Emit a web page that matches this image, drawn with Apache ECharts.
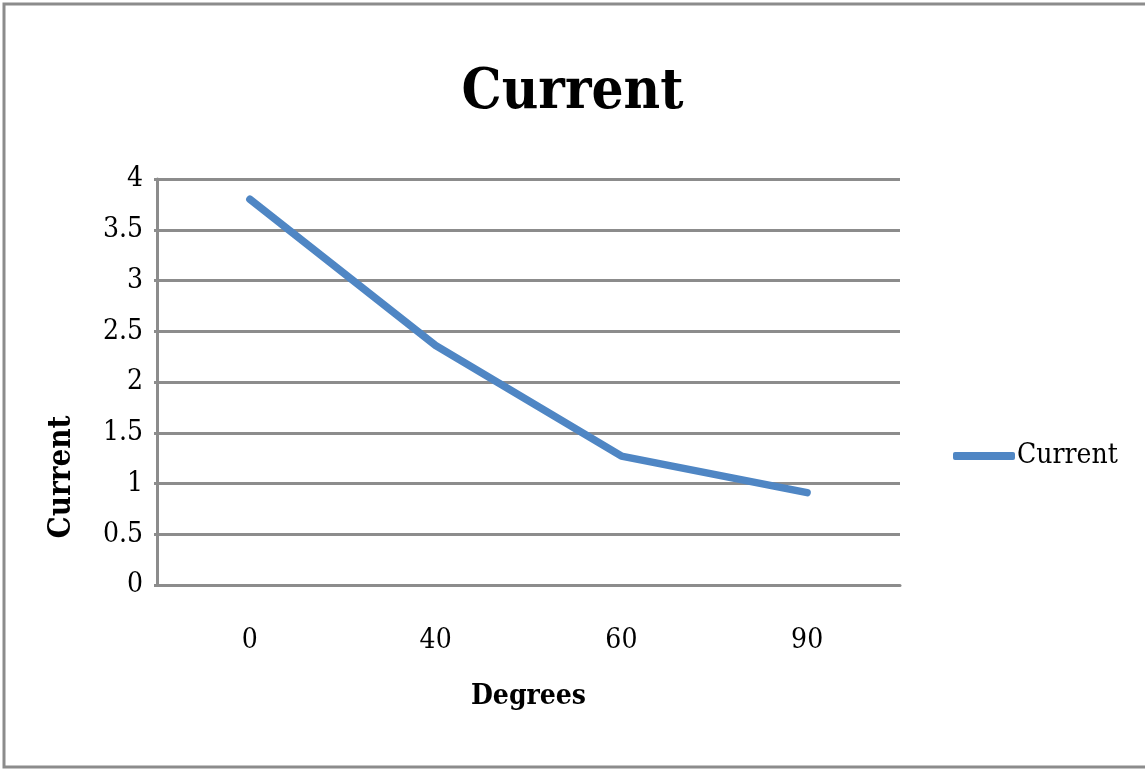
<!DOCTYPE html>
<html><head><meta charset="utf-8">
<script src="https://cdn.jsdelivr.net/npm/echarts@6/dist/echarts.min.js"></script>
<style>html,body{margin:0;padding:0;background:#fff}#c{width:1145px;height:769px}</style>
</head><body><div id="c"></div>
<script>
var categories = ['0', '40', '60', '90'];
var currentValues = [3.80, 2.36, 1.27, 0.91];
var seriesName = 'Current';
var FONT = '"DejaVu Serif Condensed", "Liberation Serif", serif';
var chart = echarts.init(document.getElementById('c'));
chart.setOption({
  animation: false,
  backgroundColor: '#fff',
  graphic: [{type: 'rect', shape: {x: 4, y: 4, width: 1150, height: 763}, style: {fill: 'none', stroke: '#8c8c8c', lineWidth: 3}, silent: true}],
  title: {text: 'Current', left: 'center', top: 60, textStyle: {fontFamily: FONT, fontWeight: 'bold', fontSize: 56, color: '#000'}},
  legend: {left: 948, top: 437, orient: 'vertical', itemWidth: 62, itemHeight: 8, itemGap: 4,
    textStyle: {fontFamily: FONT, fontSize: 28, color: '#000', padding: [0, 0, 0, -3]},
    data: [{name: seriesName, icon: 'roundRect'}]},
  grid: {left: 157, right: 245, top: 179, bottom: 184},
  xAxis: {type: 'category', data: categories, boundaryGap: true,
    name: 'Degrees', nameLocation: 'middle', nameGap: 98,
    nameTextStyle: {fontFamily: FONT, fontWeight: 'bold', fontSize: 28, color: '#000'},
    axisLine: {lineStyle: {color: '#8c8c8c', width: 3}}, axisTick: {show: false},
    axisLabel: {fontFamily: FONT, fontSize: 28, color: '#000', margin: 42}},
  yAxis: {type: 'value', min: 0, max: 4, interval: 0.5,
    name: 'Current', nameLocation: 'middle', nameGap: 80,
    nameTextStyle: {fontFamily: FONT, fontWeight: 'bold', fontSize: 31, color: '#000', padding: [0, 190, 0, 0]},
    axisLine: {show: true, lineStyle: {color: '#8c8c8c', width: 3}},
    axisTick: {show: true, length: 3, lineStyle: {color: '#8c8c8c', width: 3}},
    splitLine: {lineStyle: {color: '#8c8c8c', width: 3}},
    axisLabel: {fontFamily: FONT, fontSize: 28, color: '#000', margin: 14}},
  series: [{name: seriesName, type: 'line', data: currentValues, symbol: 'none',
    lineStyle: {color: '#4F86C4', width: 7.5, cap: 'round', join: 'round'}, itemStyle: {color: '#4F86C4'}}]
});
</script></body></html>
